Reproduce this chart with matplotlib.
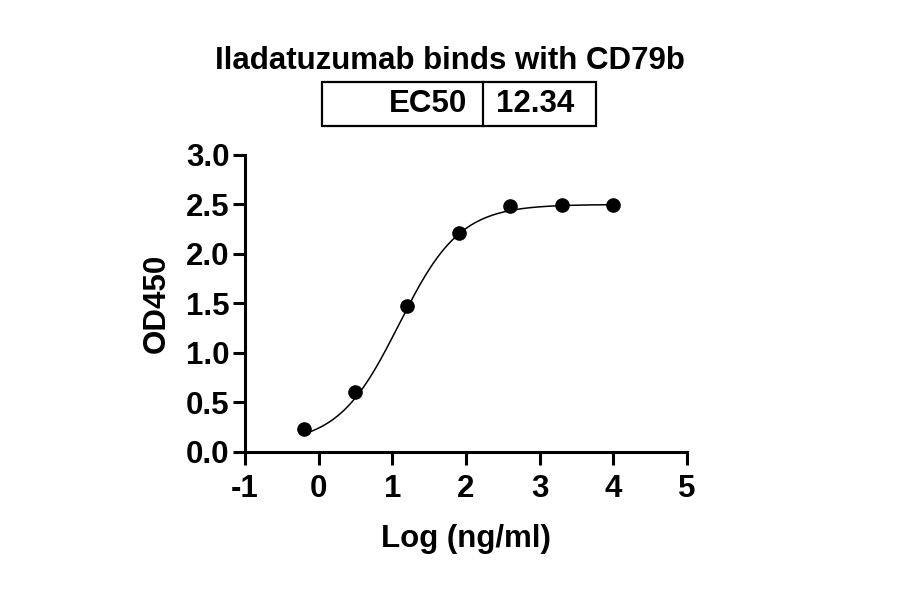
import numpy as np
import matplotlib
matplotlib.use("Agg")
import matplotlib.pyplot as plt
from matplotlib.patches import Rectangle

plt.rcParams['font.family'] = ['Liberation Sans', 'DejaVu Sans']
plt.rcParams['font.weight'] = 'bold'

# measured points (log10 ng/ml vs OD450)
log_conc = [-0.2, 0.5, 1.2, 1.9, 2.6, 3.3, 4.0]
od450 = [0.23, 0.61, 1.47, 2.21, 2.48, 2.49, 2.49]

# 4PL fit parameters
bottom = 0.08
top = 2.50
ec50 = 12.34
hill = 1.05

title = "Iladatuzumab binds with CD79b"
xticks = [-1, 0, 1, 2, 3, 4, 5]
yticks = [0.0, 0.5, 1.0, 1.5, 2.0, 2.5, 3.0]

FS = 22.5

fig = plt.figure(figsize=(9, 5.94), dpi=100)
ax = fig.add_axes([0.2722, 0.2391, 0.4911, 0.5])

xs = np.linspace(min(log_conc), max(log_conc), 300)
fit = bottom + (top - bottom) / (1 + 10 ** ((np.log10(ec50) - xs) * hill))
ax.plot(xs, fit, color='black', lw=1.1)
ax.plot(log_conc, od450, 'o', color='black', ms=9.5)

ax.set_xlim(-1, 5)
ax.set_ylim(0, 3)
ax.set_xticks(xticks)
ax.set_xticklabels([str(t) for t in xticks])
ax.set_yticks(yticks)
ax.set_yticklabels([f"{t:.1f}" for t in yticks])
for s in ['top', 'right']:
    ax.spines[s].set_visible(False)
for s in ['left', 'bottom']:
    ax.spines[s].set_linewidth(2.2)
ax.tick_params(width=2.2, length=9, labelsize=FS)
ax.tick_params(axis='x', pad=7)
ax.tick_params(axis='y', pad=2)
for lab in ax.get_xticklabels() + ax.get_yticklabels():
    lab.set_fontweight('bold')

ax.set_xlabel("Log (ng/ml)", fontsize=FS, fontweight='bold', labelpad=14)
ax.set_ylabel("OD450", fontsize=FS, fontweight='bold', labelpad=10)

fig.text(0.5, 0.897, title, ha='center', va='center', fontsize=FS, fontweight='bold')

# EC50 table box
box_l, box_r, box_b, box_t = 322 / 900, 596 / 900, 1 - 126 / 594, 1 - 82 / 594
div = 483 / 900
fig.patches.append(Rectangle((box_l, box_b), box_r - box_l, box_t - box_b,
                             transform=fig.transFigure, fill=False, lw=1.6, ec='black'))
fig.add_artist(plt.Line2D([div, div], [box_b, box_t], transform=fig.transFigure,
                          color='black', lw=1.6))
ymid = (box_b + box_t) / 2
fig.text(div - 0.018, ymid, "EC50", ha='right', va='center', fontsize=FS, fontweight='bold')
fig.text(div + 0.015, ymid, "12.34", ha='left', va='center', fontsize=FS, fontweight='bold')

fig.savefig("out.png", dpi=100)
